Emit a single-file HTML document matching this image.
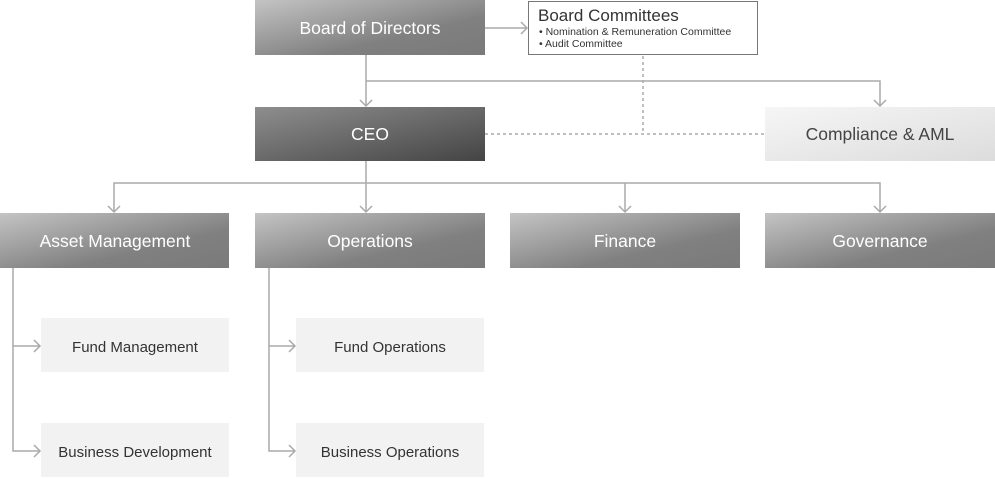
<!DOCTYPE html>
<html><head><meta charset="utf-8"><style>
html,body{margin:0;padding:0;background:#fff;width:995px;height:478px;overflow:hidden}
svg{display:block}
text{font-family:"Liberation Sans",sans-serif}
</style></head><body>
<svg width="995" height="478" viewBox="0 0 995 478" xmlns="http://www.w3.org/2000/svg">
<defs>
<linearGradient id="g" x1="0" y1="0" x2="1" y2="1" gradientUnits="objectBoundingBox">
<stop offset="0" stop-color="#c4c4c4"/><stop offset="0.65" stop-color="#808080"/><stop offset="1" stop-color="#7a7a7a"/></linearGradient>
<linearGradient id="gc" x1="0" y1="0" x2="1" y2="1">
<stop offset="0" stop-color="#8e8e8e"/><stop offset="1" stop-color="#444"/></linearGradient>
<linearGradient id="gl" x1="0" y1="0" x2="1" y2="1">
<stop offset="0" stop-color="#f6f6f6"/><stop offset="1" stop-color="#dcdcdc"/></linearGradient>
</defs>
<g stroke="#aaa" stroke-width="1.5" fill="none">
<path d="M485 28H527M521 22l6 6-6 6"/>
<path d="M366 55V106M360 100l6 6 6-6"/>
<path d="M366 81H880V106M874 100l6 6 6-6"/>
<path d="M366 161V212M114 212V183H880V212M108 206l6 6 6-6M360 206l6 6 6-6M874 206l6 6 6-6M625 183V212M619 206l6 6 6-6"/>
<path d="M13 268V451H40M13 346H40M34 340l6 6-6 6M34 445l6 6-6 6"/>
<path d="M269 268V451H295M269 346H295M289 340l6 6-6 6M289 445l6 6-6 6"/>
</g>
<g stroke="#aaa" stroke-width="1.5" stroke-dasharray="3,3" fill="none">
<path d="M643 56V134M485 134H765"/>
</g>
<rect x="255" y="0" width="230" height="55" fill="url(#g)"/>
<rect x="528.5" y="1.5" width="229" height="53" fill="#fff" stroke="#777" stroke-width="1"/>
<rect x="255" y="107" width="230" height="54" fill="url(#gc)"/>
<rect x="765" y="107" width="230" height="54" fill="url(#gl)"/>
<rect x="0" y="213" width="229" height="55" fill="url(#g)"/>
<rect x="255" y="213" width="230" height="55" fill="url(#g)"/>
<rect x="510" y="213" width="230" height="55" fill="url(#g)"/>
<rect x="765" y="213" width="230" height="55" fill="url(#g)"/>
<rect x="41" y="318" width="188" height="54" fill="#f2f2f2"/>
<rect x="41" y="423" width="188" height="54" fill="#f2f2f2"/>
<rect x="296" y="318" width="188" height="54" fill="#f2f2f2"/>
<rect x="296" y="423" width="188" height="54" fill="#f2f2f2"/>
<g fill="#fff" font-size="17.5" text-anchor="middle">
<text x="370" y="34">Board of Directors</text>
<text x="370" y="140">CEO</text>
<text x="115" y="247">Asset Management</text>
<text x="370" y="247">Operations</text>
<text x="625" y="247">Finance</text>
<text x="880" y="247">Governance</text>
</g>
<text x="880" y="140" fill="#444" font-size="17.5" text-anchor="middle">Compliance &amp; AML</text>
<g fill="#333" font-size="15" text-anchor="middle">
<text x="135" y="352">Fund Management</text>
<text x="135" y="457">Business Development</text>
<text x="390" y="352">Fund Operations</text>
<text x="390" y="457">Business Operations</text>
</g>
<text x="538" y="21" fill="#333" font-size="17">Board Committees</text>
<text x="539" y="35" fill="#333" font-size="10.5">• Nomination &amp; Remuneration Committee</text>
<text x="539" y="47" fill="#333" font-size="10.5">• Audit Committee</text>
</svg>
</body></html>
